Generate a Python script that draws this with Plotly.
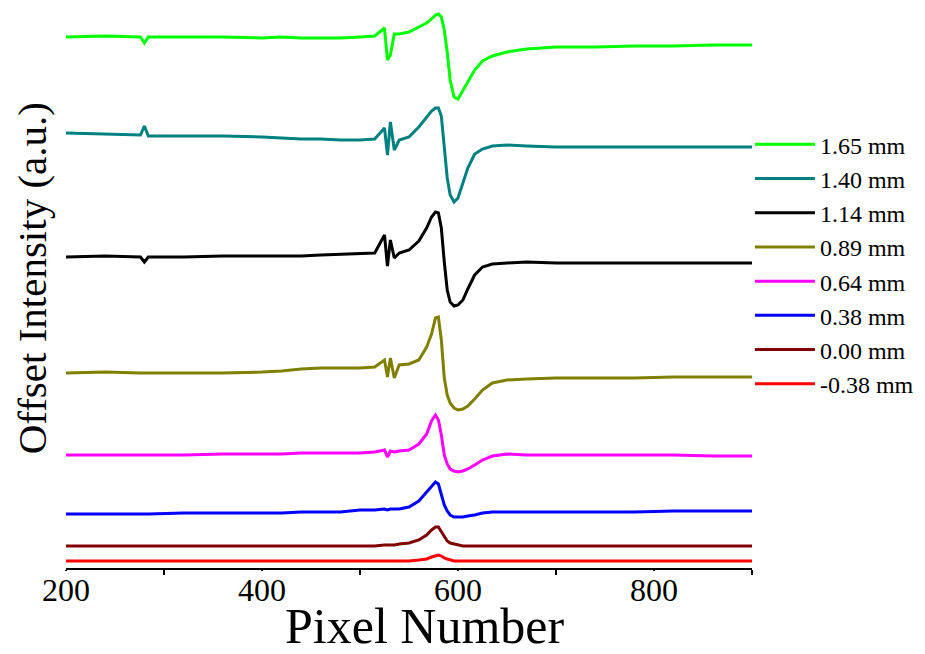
import plotly.graph_objects as go

# Pixel number grid (x axis)
pixel = [200, 240, 276, 280, 284, 320, 360, 400, 420, 440, 460, 480, 500, 515, 525, 528, 531, 535,
         540, 550, 560, 568, 573, 577, 580, 583, 586, 589, 592, 596, 600, 605, 610, 617,
         625, 635, 650, 670, 700, 740, 780, 820, 860, 900]

# Offset intensity (a.u.)
s165 = [53.1, 53.2, 53.1, 52.5, 53.1, 53.1, 53.1, 53.0, 53.1, 53.0, 53.0, 53.0, 53.1, 53.2, 54.0, 50.8, 51.3, 53.4,
        53.4, 53.6, 54.1, 54.5, 54.9, 55.3, 55.4, 55.1, 53.8, 51.6, 48.8, 47.1, 46.9, 47.7, 48.6, 49.8,
        50.7, 51.2, 51.6, 51.9, 52.1, 52.1, 52.2, 52.2, 52.3, 52.3]
s140 = [43.5, 43.4, 43.3, 44.2, 43.2, 43.2, 43.2, 43.1, 43.0, 42.9, 42.9, 42.8, 42.8, 42.9, 44.0, 41.3, 44.6, 41.8,
        42.8, 43.1, 44.1, 45.1, 45.7, 46.0, 46.0, 45.2, 42.3, 39.0, 37.3, 36.6, 37.0, 38.4, 40.0, 41.4,
        41.9, 42.2, 42.3, 42.2, 42.1, 42.1, 42.1, 42.1, 42.1, 42.1]
s114 = [31.1, 31.2, 31.1, 30.6, 31.1, 31.1, 31.2, 31.2, 31.2, 31.2, 31.3, 31.4, 31.5, 31.5, 33.3, 30.2, 32.8, 31.0,
        31.5, 31.8, 32.7, 34.0, 35.1, 35.6, 35.5, 34.0, 30.6, 27.8, 26.6, 26.2, 26.3, 26.8, 27.9, 29.3,
        30.1, 30.4, 30.5, 30.6, 30.5, 30.5, 30.5, 30.5, 30.5, 30.5]
s089 = [19.5, 19.6, 19.5, 19.5, 19.5, 19.5, 19.5, 19.6, 19.7, 19.9, 20.0, 20.0, 20.0, 20.1, 20.8, 19.1, 21.0, 19.0,
        20.3, 20.4, 20.8, 22.1, 23.4, 25.0, 25.1, 22.8, 19.0, 17.3, 16.5, 16.0, 15.8, 15.9, 16.2, 16.9,
        17.8, 18.5, 18.8, 18.9, 19.0, 19.0, 19.0, 19.1, 19.1, 19.1]
s064 = [11.3, 11.3, 11.3, 11.3, 11.3, 11.3, 11.4, 11.4, 11.4, 11.5, 11.5, 11.5, 11.5, 11.6, 11.8, 11.1, 11.7, 11.6,
        11.7, 11.8, 12.4, 13.4, 14.7, 15.3, 14.8, 13.3, 11.3, 10.4, 9.9, 9.7, 9.6, 9.7, 9.9, 10.3,
        10.8, 11.2, 11.4, 11.3, 11.3, 11.3, 11.3, 11.3, 11.2, 11.2]
s038 = [5.4, 5.4, 5.4, 5.4, 5.4, 5.5, 5.5, 5.5, 5.5, 5.6, 5.6, 5.6, 5.8, 5.8, 5.9, 5.8, 5.9, 5.9,
        5.9, 6.1, 6.7, 7.6, 8.2, 8.6, 8.4, 7.3, 6.3, 5.7, 5.3, 5.1, 5.1, 5.1, 5.2, 5.3,
        5.5, 5.6, 5.6, 5.6, 5.6, 5.6, 5.6, 5.7, 5.7, 5.7]
s000 = [2.2, 2.2, 2.2, 2.2, 2.2, 2.2, 2.2, 2.2, 2.2, 2.2, 2.2, 2.2, 2.2, 2.2, 2.3, 2.3, 2.3, 2.3,
        2.4, 2.5, 2.8, 3.3, 3.8, 4.1, 4.1, 3.6, 3.1, 2.7, 2.5, 2.4, 2.3, 2.2, 2.2, 2.2,
        2.2, 2.2, 2.2, 2.2, 2.2, 2.2, 2.2, 2.2, 2.2, 2.2]
sm038 = [0.7, 0.7, 0.7, 0.7, 0.7, 0.7, 0.7, 0.7, 0.7, 0.7, 0.7, 0.7, 0.7, 0.7, 0.7, 0.7, 0.7, 0.7,
         0.7, 0.7, 0.8, 0.9, 1.1, 1.2, 1.3, 1.2, 1.0, 0.9, 0.8, 0.7, 0.7, 0.7, 0.7, 0.7,
         0.7, 0.7, 0.7, 0.7, 0.7, 0.7, 0.7, 0.7, 0.7, 0.7]

labels = ["1.65 mm", "1.40 mm", "1.14 mm", "0.89 mm", "0.64 mm", "0.38 mm", "0.00 mm", "-0.38 mm"]
series = [s165, s140, s114, s089, s064, s038, s000, sm038]
colors = ["#00FF00", "#008080", "#000000", "#808000", "#FF00FF", "#0000FF", "#800000", "#FF0000"]

major_ticks = [200, 400, 600, 800]
minor_ticks = [300, 500, 700, 900]

FONT = "Liberation Serif, Times New Roman, serif"

fig = go.Figure()
for lab, ys, c in zip(labels, series, colors):
    fig.add_trace(go.Scatter(x=pixel, y=ys, mode="lines", name=lab,
                             line=dict(color=c, width=3)))

fig.update_layout(
    width=917, height=646,
    margin=dict(l=58, r=173, t=0, b=86, autoexpand=False),
    paper_bgcolor="white", plot_bgcolor="white",
    font=dict(family=FONT, color="black"),
    showlegend=True,
    legend=dict(x=0.997, xanchor="left", y=0.796, yanchor="top",
                font=dict(family=FONT, size=24, color="black"),
                itemwidth=60, tracegroupgap=0, bgcolor="rgba(0,0,0,0)"),
    xaxis=dict(range=[200, 900], showgrid=False, zeroline=False,
               showline=True, linecolor="black", linewidth=2,
               ticks="outside", ticklen=1, tickwidth=2, tickcolor="black",
               tickvals=major_ticks, ticklabelstandoff=-8,
               tickfont=dict(family=FONT, size=32, color="black"),
               minor=dict(tickvals=minor_ticks, ticks="outside", ticklen=5,
                          tickwidth=2, tickcolor="black", showgrid=False)),
    xaxis2=dict(range=[200, 900], overlaying="x", anchor="y", side="bottom",
                showgrid=False, zeroline=False, showline=False,
                ticks="outside", ticklen=10, tickwidth=2, tickcolor="black",
                tickvals=major_ticks, showticklabels=False),
    yaxis=dict(range=[0, 56.0], showgrid=False, zeroline=False, showline=False,
               showticklabels=False, ticks=""),
    annotations=[
        dict(text="Pixel Number", xref="paper", yref="paper",
             x=0.522, y=-0.1036, xanchor="center", yanchor="middle",
             showarrow=False, font=dict(family=FONT, size=50, color="black")),
        dict(text="Offset Intensity (a.u.)", xref="paper", yref="paper",
             x=-0.049, y=0.518, xanchor="center", yanchor="middle", textangle=-90,
             showarrow=False, font=dict(family=FONT, size=41, color="black")),
    ],
)

fig.write_html("out.html")
